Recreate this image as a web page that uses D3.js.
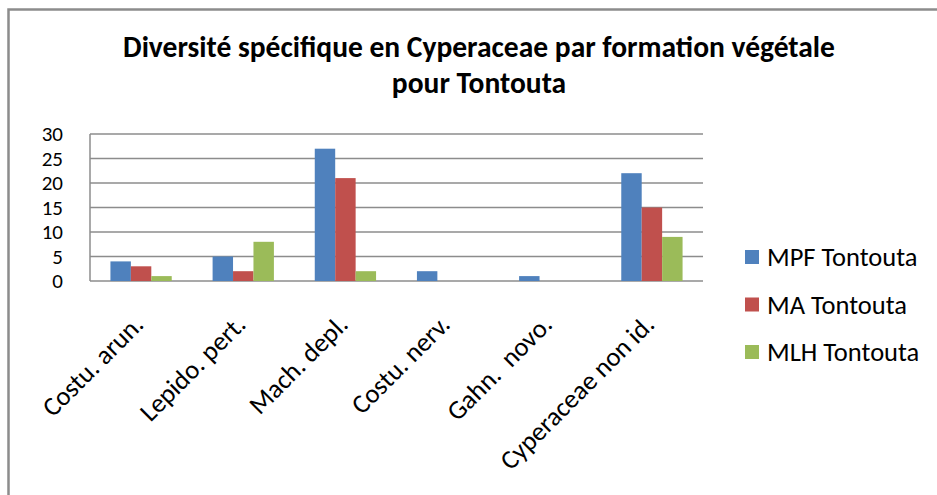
<!DOCTYPE html>
<html>
<head>
<meta charset="utf-8">
<style>
  body { margin: 0; background: #fff; }
  svg text { font-family: Carlito, Calibri, Lato, sans-serif; fill: #000; }
</style>
</head>
<body>
<div id="chart"></div>
<script src="https://d3js.org/d3.v7.min.js"></script>
<script>
const categories = ['Costu. arun.', 'Lepido. pert.', 'Mach. depl.', 'Costu. nerv.', 'Gahn.  novo.', 'Cyperaceae non id.'];
const seriesNames = ['MPF Tontouta', 'MA Tontouta', 'MLH Tontouta'];
const mpfValues = [4, 5, 27, 2, 1, 22];
const maValues = [3, 2, 21, 0, 0, 15];
const mlhValues = [1, 8, 2, 0, 0, 9];
const yTicks = [0, 5, 10, 15, 20, 25, 30];
const titleLines = ['Diversité spécifique en Cyperaceae par formation végétale', 'pour Tontouta'];

const colors = ['#4F81BD', '#C0504D', '#9BBB59'];
const seriesValues = [mpfValues, maValues, mlhValues];

const width = 937, height = 495;
const plot = { left: 90, right: 703, top: 134, bottom: 281 };

const svg = d3.select('#chart').append('svg')
  .attr('width', width)
  .attr('height', height);

// outer frame (right and bottom run off the picture)
svg.append('path')
  .attr('d', `M8.5,${height} V9.5 H${width}`)
  .attr('fill', 'none')
  .attr('stroke', '#8c8c8c')
  .attr('stroke-width', 2.5);

// title
svg.append('text')
  .attr('x', 479)
  .attr('y', 57)
  .attr('text-anchor', 'middle')
  .style('font-size', '29.5px')
  .style('font-weight', 'bold')
  .selectAll('tspan')
  .data(titleLines)
  .join('tspan')
    .attr('x', 479)
    .attr('dy', (d, i) => i === 0 ? 0 : 36)
    .text(d => d);

const x0 = d3.scaleBand()
  .domain(categories)
  .range([plot.left, plot.right]);

const x1 = d3.scaleBand()
  .domain(d3.range(seriesNames.length))
  .range([0, x0.bandwidth()])
  .paddingInner(0)
  .paddingOuter(1);

const y = d3.scaleLinear()
  .domain([0, 30])
  .range([plot.bottom, plot.top]);

// gridlines
svg.append('g')
  .selectAll('line')
  .data(yTicks)
  .join('line')
    .attr('x1', plot.left)
    .attr('x2', plot.right)
    .attr('y1', d => y(d))
    .attr('y2', d => y(d))
    .attr('stroke', '#8c8c8c')
    .attr('stroke-width', 1.5);

// y axis line
svg.append('line')
  .attr('x1', plot.left)
  .attr('x2', plot.left)
  .attr('y1', plot.top)
  .attr('y2', plot.bottom)
  .attr('stroke', '#8c8c8c')
  .attr('stroke-width', 1.5);

// y tick labels
const yAxis = d3.axisLeft(y).tickValues(yTicks).tickSize(0).tickPadding(27);
const yg = svg.append('g')
  .attr('transform', `translate(${plot.left},0)`)
  .call(yAxis);
yg.select('.domain').remove();
yg.selectAll('text')
  .style('font-size', '21px')
  .style('font-family', 'Carlito, Calibri, Lato, sans-serif');

// bars
const groups = svg.append('g')
  .selectAll('g')
  .data(categories)
  .join('g')
    .attr('transform', d => `translate(${x0(d)},0)`);

groups.selectAll('rect')
  .data((d, i) => seriesValues.map((vals, s) => ({ s, v: vals[i] })))
  .join('rect')
    .attr('x', d => x1(d.s))
    .attr('width', x1.bandwidth())
    .attr('y', d => y(d.v))
    .attr('height', d => y(0) - y(d.v))
    .attr('fill', d => colors[d.s]);

// x labels, rotated, ending under the group centre
svg.append('g')
  .selectAll('text')
  .data(categories)
  .join('text')
    .attr('transform', d => `translate(${x0(d) + x0.bandwidth() / 2 + 4},${plot.bottom + 45}) rotate(-45)`)
    .attr('text-anchor', 'end')
    .style('font-size', '26.5px')
    .style('white-space', 'pre')
    .text(d => d);

// legend
const legend = svg.append('g')
  .selectAll('g')
  .data(seriesNames)
  .join('g')
    .attr('transform', (d, i) => `translate(745,${257 + i * 47.5})`);

legend.append('rect')
  .attr('x', 0)
  .attr('y', -7)
  .attr('width', 14)
  .attr('height', 14)
  .attr('fill', (d, i) => colors[i]);

legend.append('text')
  .attr('x', 22)
  .attr('dy', '0.35em')
  .style('font-size', '26.5px')
  .text(d => d);
</script>
</body>
</html>
